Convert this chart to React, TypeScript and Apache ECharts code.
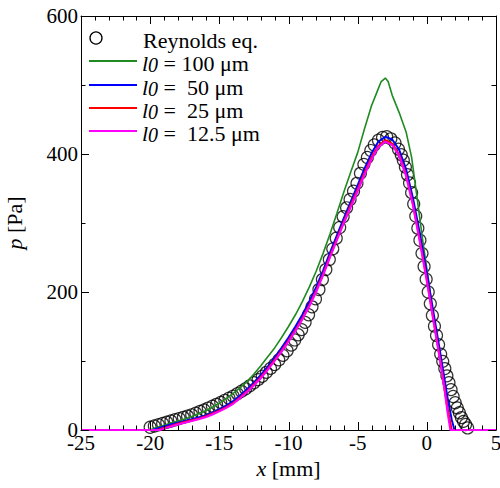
import React, { useEffect, useRef } from "react";
import * as echarts from "echarts";

// Reynolds equation (circles)
const reyX = [
  -20, -19.7, -19.4, -19.1, -18.8, -18.5, -18.2, -17.9, -17.6, -17.3, -17.0, -16.7, -16.4, -16.1,
  -15.8, -15.5, -15.2, -14.9, -14.6, -14.3, -14.0, -13.7, -13.4, -13.1, -12.8, -12.5, -12.2, -11.9,
  -11.6, -11.3, -11.0, -10.7, -10.4, -10.1, -9.8, -9.55, -9.3, -9.05, -8.8, -8.55, -8.3, -8.05,
  -7.8, -7.55, -7.3, -7.05, -6.8, -6.55, -6.3, -6.05, -5.8, -5.55, -5.3, -5.05, -4.8, -4.55,
  -4.3, -4.05, -3.8, -3.5, -3.2, -2.9, -2.6, -2.3, -2.05, -1.85, -1.7, -1.55, -1.4, -1.25,
  -1.1, -0.95, -0.8, -0.65, -0.5, -0.35, -0.2, -0.05, 0.1, 0.25, 0.4, 0.55, 0.7, 0.85, 1.0,
  1.15, 1.3, 1.45, 1.6, 1.75, 1.9, 2.05, 2.2, 2.35, 2.5, 2.65, 2.8, 2.95,
];
const reyP = [
  4, 5.8, 7.6, 9.4, 11.2, 13, 14.8, 16.6, 18.4, 20.2, 22, 24.4, 26.8, 29.2,
  31.8, 34.5, 37.2, 40, 43, 46, 49, 52.6, 56.2, 59.8, 64, 68.5, 73, 77.9,
  83.6, 89.3, 95, 101.6, 108.2, 114.8, 123, 130.5, 138, 145.5, 156, 167, 178.5, 190,
  203.5, 218, 232.5, 247, 262.5, 278, 293.5, 309, 322, 334, 346, 357.5, 372, 385,
  395, 405, 413, 420, 424, 425, 422, 416, 407, 399, 391, 381, 370, 358,
  344, 327.5, 310, 292.5, 275, 256, 237, 218.5, 200, 183, 166, 150.5, 137, 123.5, 110,
  99.5, 89, 78.5, 68.5, 58.5, 48.5, 39.5, 32, 25, 18, 12.5, 8, 3,
];

// l0 = 100 um (green)
const g100X = [
  -25, -20, -19.5, -19, -18.5, -18, -17.5, -17, -16.5, -16, -15.5, -15, -14.5, -14, -13.5, -13,
  -12.5, -12, -11.5, -11, -10.5, -10, -9.5, -9, -8.5, -8, -7.5, -7, -6.5, -6, -5.5, -5, -4.5,
  -4, -3.6, -3.3, -3, -2.8, -2.5, -2, -1.5, -1.1, -0.7, -0.3, 0.1, 0.5, 1, 1.5, 1.75, 5,
];
const g100P = [
  0, 0, 4, 7, 10, 13, 16, 19.5, 23.5, 28, 33, 39, 45.5, 53, 61, 70,
  81, 93, 106, 119, 134, 150, 167, 186, 207, 230, 256, 284, 314, 345, 374, 402, 437,
  470, 490, 505, 510, 505, 485, 460, 432, 395, 336, 275, 220, 160, 95, 28, 0, 0,
];

// l0 = 50 um (blue)
const b50X = [
  -25, -19.8, -19, -18.5, -18, -17.5, -17, -16.5, -16, -15.5, -15, -14.5, -14, -13.5, -13,
  -12.5, -12, -11.5, -11, -10.5, -10, -9.5, -9, -8.5, -8, -7.5, -7, -6.5, -6, -5.5, -5, -4.5,
  -4, -3.5, -3, -2.5, -2, -1.5, -1, -0.5, 0, 0.5, 1, 1.5, 1.8, 2.0, 5,
];
const b50P = [
  0, 0, 5, 8, 10.5, 13, 15.5, 18, 21, 25, 30, 35.5, 42, 50, 59,
  69, 80, 92, 105, 119, 134, 150, 167, 186, 207, 231, 257, 282, 307, 331, 355, 379,
  401, 418, 425, 421, 406, 378, 336, 284, 228, 168, 108, 46, 15, 0, 0,
];

// l0 = 25 um (red)
const r25X = [
  -25, -19.5, -19, -18.5, -18, -17.5, -17, -16.5, -16, -15.5, -15, -14.5, -14, -13.5, -13,
  -12.5, -12, -11.5, -11, -10.5, -10, -9.5, -9, -8.5, -8, -7.5, -7, -6.5, -6, -5.5, -5, -4.5,
  -4, -3.5, -3, -2.5, -2, -1.5, -1, -0.5, 0, 0.5, 1, 1.5, 1.8, 5,
];
const r25P = [
  0, 0, 3, 6, 9, 11.5, 14, 16.5, 19.5, 23.5, 28, 33, 39, 47, 56,
  66, 76.5, 88.5, 101.5, 115, 129.5, 145, 161.5, 181, 202, 226, 252, 277, 302, 326, 349, 373,
  395, 412, 420, 415, 399, 370, 327, 274, 218, 158, 98, 32, 0, 0,
];

// l0 = 12.5 um (magenta)
const m125X = [
  -25, -19.3, -19, -18.5, -18, -17.5, -17, -16.5, -16, -15.5, -15, -14.5, -14, -13.5, -13,
  -12.5, -12, -11.5, -11, -10.5, -10, -9.5, -9, -8.5, -8, -7.5, -7, -6.5, -6, -5.5, -5, -4.5,
  -4, -3.5, -3, -2.5, -2, -1.5, -1, -0.5, 0, 0.5, 1, 1.3, 1.5, 1.7, 5,
];
const m125P = [
  0, 0, 2, 5, 8, 10.5, 13, 15.5, 18.5, 22.5, 27, 32, 38, 46, 55,
  64.5, 75, 87, 100, 113.5, 128, 143.5, 160, 179, 200, 224, 250, 275, 300, 323, 346, 370,
  392, 410, 418, 413, 397, 368, 325, 272, 215, 155, 95, 55, 25, 0, 0,
];

// axis ticks (values)
const xMajorTicks = [-25, -20, -15, -10, -5, 0, 5];
const xMinorTicks = [
  -24, -23, -22, -21, -19, -18, -17, -16, -14, -13, -12, -11, -9, -8, -7, -6, -4, -3, -2, -1, 1, 2, 3, 4,
];
const yMajorTicks = [0, 200, 400, 600];
const yMinorTicks = [100, 300, 500];
const X_MIN = -25;
const X_MAX = 5;
const Y_MIN = 0;
const Y_MAX = 600;

const legendLabels = ["Reynolds eq.", " = 100 μm", " =  50 μm", " =  25 μm", " =  12.5 μm"];
const lineColors = ["#1f8a1f", "#0000ff", "#ff0000", "#ff00ff"];

const FONT = "Liberation Serif, Times New Roman, serif";

const zip = (xs: number[], ys: number[]) => xs.map((x, i) => [x, ys[i]]);

const mkLine = () => ({ show: true, onZero: false, lineStyle: { color: "#000", width: 1 } });

const MAJOR_LEN = 8;
const MINOR_LEN = 4.5;

export default function App() {
  const ref = useRef<HTMLDivElement>(null);
  useEffect(() => {
    const chart = echarts.init(ref.current!, null, { renderer: "svg" });
    const lineSeries = [
      { name: "l0 = 100 μm", x: g100X, y: g100P, c: lineColors[0], w: 1.6 },
      { name: "l0 = 50 μm", x: b50X, y: b50P, c: lineColors[1], w: 2 },
      { name: "l0 = 25 μm", x: r25X, y: r25P, c: lineColors[2], w: 2 },
      { name: "l0 = 12.5 μm", x: m125X, y: m125P, c: lineColors[3], w: 2 },
    ].map((s) => ({
      type: "line",
      name: s.name,
      data: zip(s.x, s.y),
      showSymbol: false,
      symbol: "none",
      lineStyle: { color: s.c, width: s.w },
      itemStyle: { color: s.c },
      xAxisIndex: 0,
      yAxisIndex: 0,
    }));

    const tickStyle = { stroke: "#000", lineWidth: 1, fill: "none" };

    // x ticks: [value, Y_MIN, length] -> drawn on bottom and top edges
    const xTickData = [
      ...xMajorTicks.map((v) => [v, Y_MIN, MAJOR_LEN]),
      ...xMinorTicks.map((v) => [v, Y_MIN, MINOR_LEN]),
    ];
    // y ticks: [X_MIN, value, length] -> drawn on left and right edges
    const yTickData = [
      ...yMajorTicks.map((v) => [X_MIN, v, MAJOR_LEN]),
      ...yMinorTicks.map((v) => [X_MIN, v, MINOR_LEN]),
    ];

    const xTickSeries = {
      type: "custom",
      silent: true,
      clip: false,
      z: 20,
      xAxisIndex: 0,
      yAxisIndex: 0,
      data: xTickData,
      renderItem: (params: any, api: any) => {
        const v = api.value(0);
        const len = api.value(2);
        const pB = api.coord([v, Y_MIN]);
        const pT = api.coord([v, Y_MAX]);
        const x = Math.round(pB[0]) + 0.5;
        return {
          type: "group",
          children: [
            { type: "line", shape: { x1: x, y1: pB[1], x2: x, y2: pB[1] - len }, style: tickStyle },
            { type: "line", shape: { x1: x, y1: pT[1], x2: x, y2: pT[1] + len }, style: tickStyle },
          ],
        };
      },
    };
    const yTickSeries = {
      type: "custom",
      silent: true,
      clip: false,
      z: 20,
      xAxisIndex: 0,
      yAxisIndex: 0,
      data: yTickData,
      renderItem: (params: any, api: any) => {
        const v = api.value(1);
        const len = api.value(2);
        const pL = api.coord([X_MIN, v]);
        const pR = api.coord([X_MAX, v]);
        const y = Math.round(pL[1]) + 0.5;
        return {
          type: "group",
          children: [
            { type: "line", shape: { x1: pL[0], y1: y, x2: pL[0] + len, y2: y }, style: tickStyle },
            { type: "line", shape: { x1: pR[0], y1: y, x2: pR[0] - len, y2: y }, style: tickStyle },
          ],
        };
      },
    };

    const nameStyle = () => ({
      color: "#000",
      fontFamily: FONT,
      fontSize: 22,
      rich: {
        i: { fontFamily: FONT, fontSize: 22, fontStyle: "italic", color: "#000" },
        n: { fontFamily: FONT, fontSize: 22, color: "#000" },
      },
    });

    const legendY = [61, 85, 108, 131];
    const graphic: any[] = [
      {
        type: "circle",
        shape: { cx: 96, cy: 38, r: 6 },
        style: { fill: "none", stroke: "#000", lineWidth: 1.3 },
      },
      {
        type: "text",
        x: 143,
        y: 40,
        style: {
          text: legendLabels[0],
          fontFamily: FONT,
          fontSize: 22,
          fill: "#000",
          verticalAlign: "middle",
        },
      },
    ];
    legendY.forEach((y, i) => {
      graphic.push({
        type: "line",
        shape: { x1: 89, y1: y, x2: 137, y2: y },
        style: { stroke: lineColors[i], lineWidth: 2 },
      });
      graphic.push({
        type: "text",
        x: 142,
        y: y + 2,
        style: {
          text: "{i|l}{s|0}{n|" + legendLabels[i + 1] + "}",
          fontFamily: FONT,
          fontSize: 22,
          fill: "#000",
          verticalAlign: "middle",
          rich: {
            i: { fontFamily: FONT, fontSize: 22, fontStyle: "italic", fill: "#000" },
            s: { fontFamily: FONT, fontSize: 20, fontStyle: "italic", fill: "#000", padding: [4, 0, 0, 0] },
            n: { fontFamily: FONT, fontSize: 22, fill: "#000" },
          },
        },
      });
    });

    chart.setOption({
      animation: false,
      textStyle: { fontFamily: FONT },
      grid: {
        left: 81,
        right: 4,
        top: 16,
        bottom: 58,
        containLabel: false,
        outerBoundsMode: "none",
      },
      xAxis: [
        {
          type: "value",
          min: X_MIN,
          max: X_MAX,
          interval: 5,
          position: "bottom",
          axisLine: mkLine(),
          axisTick: { show: false },
          minorTick: { show: false },
          splitLine: { show: false },
          axisLabel: { color: "#000", fontFamily: FONT, fontSize: 21, margin: 2 },
          name: "{i|x}{n| [mm]}",
          nameLocation: "middle",
          nameGap: 27,
          nameTextStyle: nameStyle(),
        },
        {
          type: "value",
          min: X_MIN,
          max: X_MAX,
          interval: 5,
          position: "top",
          axisLine: mkLine(),
          axisTick: { show: false },
          splitLine: { show: false },
          axisLabel: { show: false },
        },
      ],
      yAxis: [
        {
          type: "value",
          min: Y_MIN,
          max: Y_MAX,
          interval: 200,
          position: "left",
          axisLine: mkLine(),
          axisTick: { show: false },
          minorTick: { show: false },
          splitLine: { show: false },
          axisLabel: { color: "#000", fontFamily: FONT, fontSize: 21, margin: 3 },
          name: "{i|p}{n| [Pa]}",
          nameLocation: "middle",
          nameGap: 56,
          nameTextStyle: nameStyle(),
        },
        {
          type: "value",
          min: Y_MIN,
          max: Y_MAX,
          interval: 200,
          position: "right",
          axisLine: mkLine(),
          axisTick: { show: false },
          splitLine: { show: false },
          axisLabel: { show: false },
        },
      ],
      series: [
        {
          type: "scatter",
          name: "Reynolds eq.",
          data: zip(reyX, reyP),
          symbol: "circle",
          symbolSize: 12,
          itemStyle: { color: "rgba(0,0,0,0)", borderColor: "#000", borderWidth: 1.2 },
          xAxisIndex: 0,
          yAxisIndex: 0,
        },
        ...lineSeries,
        xTickSeries,
        yTickSeries,
      ],
      graphic,
    });
    return () => chart.dispose();
  }, []);
  return (
    <div
      ref={ref}
      style={{ position: "fixed", left: 0, top: 0, width: 500, height: 488, background: "#fff" }}
    />
  );
}
